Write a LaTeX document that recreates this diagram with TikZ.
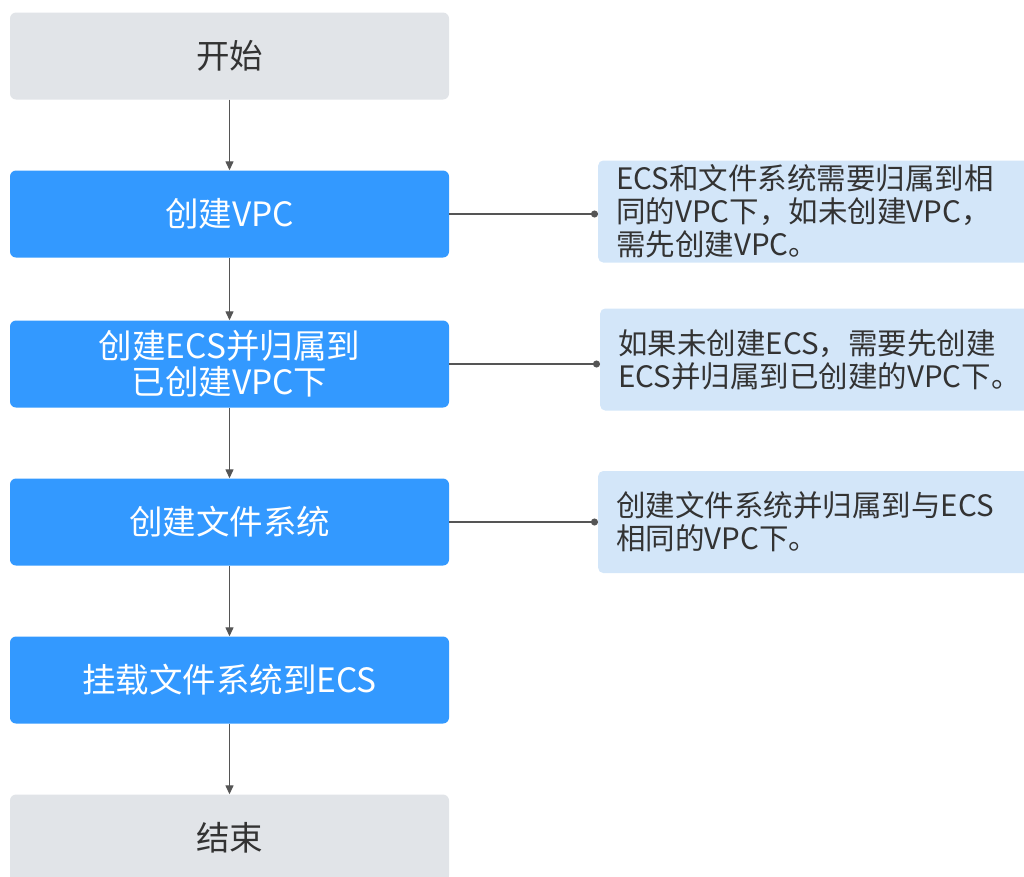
\documentclass[tikz,border=0pt]{standalone}
\usepackage{fontspec}
\setmainfont{Noto Sans CJK SC}
\usetikzlibrary{positioning, arrows.meta}
\definecolor{termgray}{RGB}{225,228,232}
\definecolor{stepblue}{RGB}{51,153,255}
\definecolor{notefill}{RGB}{211,230,249}
\definecolor{inkgray}{RGB}{51,51,51}
\definecolor{linegray}{RGB}{85,85,85}
\tikzset{
    x=1pt, y=-1pt, % pixel grid of the reference
    box/.style={rounded corners=6pt, minimum width=439pt, minimum height=87pt,
        align=center, font=\fontsize{33.5}{36}\selectfont, inner sep=0pt},
    termbox/.style={box, fill=termgray, text=inkgray}, % start and end
    stepbox/.style={box, fill=stepblue, text=white}, % steps
    notebox/.style={rounded corners=5pt, fill=notefill, text=inkgray, anchor=west,
        minimum width=450pt, minimum height=102pt, text width=420pt, align=left,
        inner xsep=18pt, font=\fontsize{29.5}{33}\selectfont},
    flow/.style={draw=linegray, line width=1.3pt, -{Triangle[width=8pt,length=9pt]}},
    hint/.style={draw=linegray, line width=1.3pt, -{Circle[length=7pt]}},
}
\begin{document}
\begin{tikzpicture}
    \useasboundingbox (0,0) rectangle (1024,876);

    \node[termbox] (start) at (229.5,56) {开始};
    \node[stepbox] (vpc)   at (229.5,214) {创建VPC};
    \node[stepbox] (ecs)   at (229.5,364) {创建ECS并归属到\\已创建VPC下};
    \node[stepbox] (sfs)   at (229.5,522) {创建文件系统};
    \node[stepbox] (mount) at (229.5,680) {挂载文件系统到ECS};
    \node[termbox] (stop)  at (229.5,838) {结束};

    \node[notebox] (note1) at (598,211.5) {ECS和文件系统需要归属到相\\同的VPC下，如未创建VPC，\\需先创建VPC。};
    \node[notebox] (note2) at (600,359.5) {如果未创建ECS，需要先创建\\ECS并归属到已创建的VPC下。};
    \node[notebox] (note3) at (598,522) {创建文件系统并归属到与ECS\\相同的VPC下。};

    \draw[flow] (start) -- (vpc);
    \draw[flow] (vpc) -- (ecs);
    \draw[flow] (ecs) -- (sfs);
    \draw[flow] (sfs) -- (mount);
    \draw[flow] (mount) -- (stop);

    \draw[hint] (vpc.east) -- (vpc.east -| note1.west);
    \draw[hint] (ecs.east) -- (ecs.east -| note2.west);
    \draw[hint] (sfs.east) -- (sfs.east -| note3.west);
\end{tikzpicture}
\end{document}
